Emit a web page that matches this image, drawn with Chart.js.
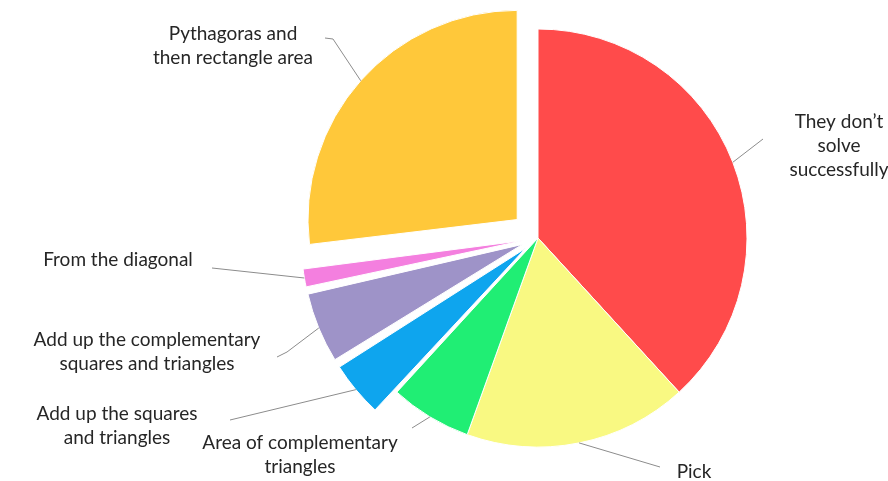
<!DOCTYPE html>
<html>
<head>
<meta charset="utf-8">
<script src="https://cdn.jsdelivr.net/npm/chart.js@4/dist/chart.umd.min.js"></script>
<style>
  html, body { margin: 0; padding: 0; background: #fff; }
  #wrap { width: 888px; height: 481px; position: relative; }
</style>
</head>
<body>
<div id="wrap"><canvas id="pieChart" width="888" height="481"></canvas></div>
<script>
// Datos del gráfico (porcentaje de alumnos por estrategia)
const categories = [
  "They don't solve successfully",
  'Pick',
  'Area of complementary triangles',
  'Add up the squares and triangles',
  'Add up the complementary squares and triangles',
  'From the diagonal',
  'Pythagoras and then rectangle area'
];
const values = [38.2, 17.3, 6.3, 4.3, 5.4, 1.6, 26.9];
const exploded = [false, false, false, true, true, true, true];

// Colores de cada porción
const sliceColors = ['#FF4B4B', '#F9F982', '#20EE74', '#0EA5EE', '#9E93C8', '#F47FDF', '#FFC83A'];

// Texto y posición de cada etiqueta (líneas, centro x, y de la primera línea, puntos de la guía)
const labelLayout = [
  { lines: ['They don\u2019t', 'solve', 'successfully'], x: 839, y: 122, path: [[763, 139]] },
  { lines: ['Pick'], x: 694, y: 472, path: [[660, 467]] },
  { lines: ['Area of complementary', 'triangles'], x: 300, y: 443, path: [[412, 428]] },
  { lines: ['Add up the squares', 'and triangles'], x: 117, y: 414, path: [[230, 420]] },
  { lines: ['Add up the complementary', 'squares and triangles'], x: 147, y: 340, path: [[287, 352], [277, 357]] },
  { lines: ['From the diagonal'], x: 118, y: 260, path: [[212, 268]] },
  { lines: ['Pythagoras and', 'then rectangle area'], x: 233, y: 34, path: [[333, 39], [325, 38]] }
];

const SHIFT = 28;      // desplazamiento de las porciones separadas
const RADIUS = 209;
const total = values.reduce((a, b) => a + b, 0);

// Chart.js v4 traslada offset/4 * (2 - sin(circ)); lo invertimos para obtener SHIFT px
function realShift(circ, offset) {
  const fix = 1 - Math.sin(Math.min(Math.PI, circ));
  return offset / 4 * (1 + fix);
}
const offsets = values.map((v, i) => {
  if (!exploded[i]) return 0;
  const circ = v / total * Math.PI * 2;
  const fix = 1 - Math.sin(Math.min(Math.PI, circ));
  return SHIFT * 4 / (1 + fix);
});

// Plugin para etiquetas con líneas guía
const leaderLabels = {
  id: 'leaderLabels',
  afterDatasetsDraw(chart) {
    const ctx = chart.ctx;
    const arcs = chart.getDatasetMeta(0).data;
    ctx.save();
    arcs.forEach((arc, i) => {
      const mid = (arc.startAngle + arc.endAngle) / 2;
      const sh = realShift(arc.circumference, offsets[i]);
      const ax = arc.x + Math.cos(mid) * (sh + arc.outerRadius);
      const ay = arc.y + Math.sin(mid) * (sh + arc.outerRadius);
      const lay = labelLayout[i];
      ctx.beginPath();
      ctx.moveTo(ax, ay);
      lay.path.forEach(p => ctx.lineTo(p[0], p[1]));
      ctx.strokeStyle = '#8c8c8c';
      ctx.lineWidth = 1;
      ctx.stroke();

      ctx.fillStyle = '#262626';
      ctx.font = '19px Lato';
      ctx.textAlign = 'center';
      ctx.textBaseline = 'middle';
      lay.lines.forEach((t, k) => ctx.fillText(t, lay.x, lay.y + k * 24));
    });
    ctx.restore();
  }
};

const ctx = document.getElementById('pieChart');
new Chart(ctx, {
  type: 'pie',
  data: {
    labels: categories,
    datasets: [{
      data: values,
      backgroundColor: sliceColors,
      borderColor: '#ffffff',
      borderWidth: 1,
      offset: offsets,
      hoverOffset: 0,
    }]
  },
  options: {
    responsive: false,
    animation: false,
    events: [],
    radius: RADIUS,
    layout: { padding: { left: 200, right: 12, top: 0, bottom: 5 } },
    plugins: {
      legend: { display: false },
      tooltip: { enabled: false }
    }
  },
  plugins: [leaderLabels]
});
</script>
</body>
</html>
